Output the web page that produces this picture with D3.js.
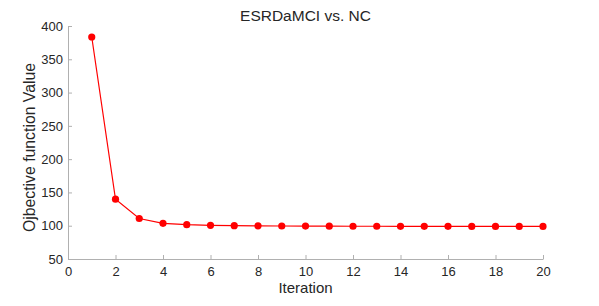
<!DOCTYPE html>
<html>
<head>
<meta charset="utf-8">
<script src="https://cdn.jsdelivr.net/npm/d3@7"></script>
<style>
  body { margin: 0; background: #fff; }
  text { font-family: "Liberation Sans", Arial, sans-serif; fill: #262626; }
  .axis path, .axis line { stroke: #b0b0b0; }
  .axis text { font-size: 13px; fill: #262626; }
</style>
</head>
<body>
<div id="chart"></div>
<script>
var svgWidth = 599;
var svgHeight = 306;

var margin = { top: 26, right: 56, bottom: 47, left: 68 };
var width = svgWidth - margin.left - margin.right;
var height = svgHeight - margin.top - margin.bottom;

// data
var iterations = [1, 2, 3, 4, 5, 6, 7, 8, 9, 10, 11, 12, 13, 14, 15, 16, 17, 18, 19, 20];
var objValues = [383.5, 139.8, 110.8, 103.6, 101.5, 100.6, 100.1, 99.8, 99.6, 99.4,
                 99.3, 99.2, 99.2, 99.1, 99.1, 99.1, 99.0, 99.0, 99.0, 99.0];
var xTicks = [0, 2, 4, 6, 8, 10, 12, 14, 16, 18, 20];
var yTicks = [50, 100, 150, 200, 250, 300, 350, 400];

var svg = d3.select("#chart").append("svg")
  .attr("width", svgWidth)
  .attr("height", svgHeight);

var chartGroup = svg.append("g")
  .attr("transform", `translate(${margin.left}, ${margin.top})`);

var xScale = d3.scaleLinear().domain([0, 20]).range([0, width]);
var yScale = d3.scaleLinear().domain([50, 400]).range([height, 0]);

var bottomAxis = d3.axisBottom(xScale).tickValues(xTicks).tickSizeInner(-4).tickSizeOuter(0).tickPadding(8);
var leftAxis = d3.axisLeft(yScale).tickValues(yTicks).tickSizeInner(-4).tickSizeOuter(0).tickPadding(5);

chartGroup.append("g")
  .attr("class", "axis")
  .attr("transform", `translate(0, ${height})`)
  .call(bottomAxis);

chartGroup.append("g")
  .attr("class", "axis")
  .call(leftAxis);

var data = iterations.map(function(d, i) { return { x: d, y: objValues[i] }; });

var line = d3.line()
  .x(d => xScale(d.x))
  .y(d => yScale(d.y));

chartGroup.append("path")
  .datum(data)
  .attr("fill", "none")
  .attr("stroke", "#ff0000")
  .attr("stroke-width", 1.2)
  .attr("d", line);

chartGroup.selectAll("circle")
  .data(data)
  .enter()
  .append("circle")
  .attr("cx", d => xScale(d.x))
  .attr("cy", d => yScale(d.y))
  .attr("r", 3.6)
  .attr("fill", "#ff0000");

// title
chartGroup.append("text")
  .attr("x", width / 2)
  .attr("y", -5)
  .attr("text-anchor", "middle")
  .style("font-size", "15.5px")
  .text("ESRDaMCI vs. NC");

// axis labels
chartGroup.append("text")
  .attr("x", width / 2)
  .attr("y", height + 34)
  .attr("text-anchor", "middle")
  .style("font-size", "15px")
  .text("Iteration");

chartGroup.append("text")
  .attr("transform", "rotate(-90)")
  .attr("x", -height / 2 - 5)
  .attr("y", -33)
  .attr("text-anchor", "middle")
  .style("font-size", "15.8px")
  .text("Ojbective function Value");
</script>
</body>
</html>
